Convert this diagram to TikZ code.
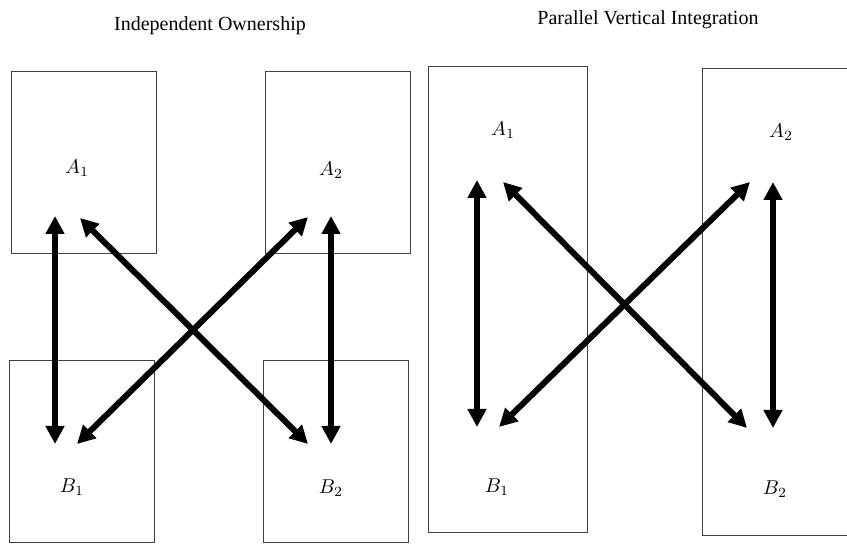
\documentclass[tikz,border=0pt]{standalone}
\usepackage{fontspec}
\setmainfont{Liberation Serif}
\usetikzlibrary{positioning, arrows.meta}

\begin{document}
\begin{tikzpicture}[
    x=0.5pt, y=-0.5pt,
    firm/.style={
        draw=black!75, line width=0.5pt, inner sep=0pt, outer sep=0pt,
        minimum width=72.5pt, minimum height=91pt
    },
    tallfirm/.style={firm, minimum width=79.5pt, minimum height=233pt},
    lbl/.style={inner sep=1pt, font=\normalsize},
    title/.style={font=\normalsize},
    link/.style={{Triangle[length=9pt, width=9pt]}-{Triangle[length=9pt, width=9pt]}, line width=3pt},
]
\useasboundingbox (0,0) rectangle (847,544);

% Titles
\node[title] (tio) at (210,26) {Independent Ownership};
\node[title] (tpvi) at (648,20) {Parallel Vertical Integration};

% Independent ownership: four firms
\node[firm] (fa1) at (83.5,163) {};
\node[firm] (fa2) at (338,163) {};
\node[firm] (fb1) at (81.5,452) {};
\node[firm] (fb2) at (336,452) {};

\node[lbl] (la1) at (77,168) {$A_1$};
\node[lbl] (la2) at (331,170) {$A_2$};
\node[lbl] (lb1) at (72,487) {$B_1$};
\node[lbl] (lb2) at (331,488) {$B_2$};

% Arrow ends (left)
\coordinate (a1v) at (55,216);
\coordinate (b1v) at (55,444);
\coordinate (a1d) at (80,218);
\coordinate (b2d) at (308,444);
\coordinate (a2d) at (308,217);
\coordinate (b1d) at (77,444);
\coordinate (a2v) at (331,216);
\coordinate (b2v) at (331,444);

\draw[link] (a1v) -- (b1v);
\draw[link] (a1d) -- (b2d);
\draw[link] (a2d) -- (b1d);
\draw[link] (a2v) -- (b2v);

% Parallel vertical integration: two integrated firms
\node[tallfirm] (f1) at (507.5,300) {};
\node[tallfirm, minimum width=80pt, minimum height=233.5pt] (f2) at (782,302.5) {};

\node[lbl] (ra1) at (503,130) {$A_1$};
\node[lbl] (ra2) at (781,132) {$A_2$};
\node[lbl] (rb1) at (497,487) {$B_1$};
\node[lbl] (rb2) at (775,489) {$B_2$};

% Arrow ends (right)
\coordinate (ra1v) at (477,180);
\coordinate (rb1v) at (477,427);
\coordinate (ra1d) at (503,182);
\coordinate (rb2d) at (747,428);
\coordinate (ra2d) at (750,182);
\coordinate (rb1d) at (499,427);
\coordinate (ra2v) at (773,182);
\coordinate (rb2v) at (773,428);

\draw[link] (ra1v) -- (rb1v);
\draw[link] (ra1d) -- (rb2d);
\draw[link] (ra2d) -- (rb1d);
\draw[link] (ra2v) -- (rb2v);

\end{tikzpicture}
\end{document}
